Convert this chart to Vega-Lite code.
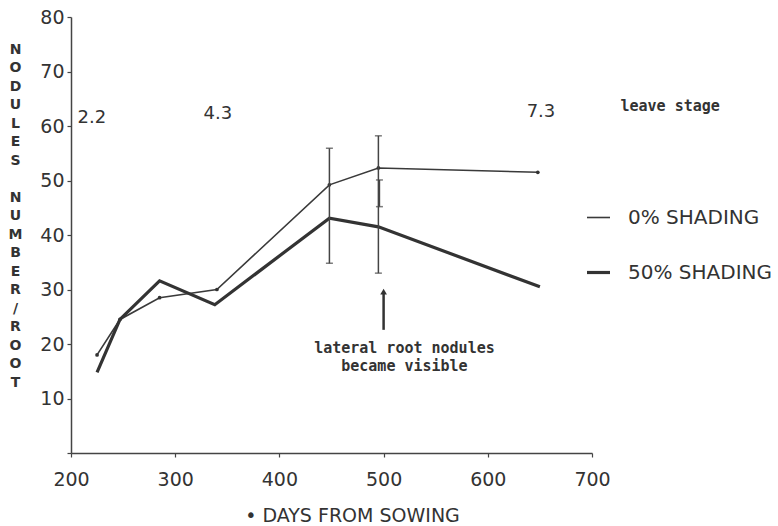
{
  "$schema": "https://vega.github.io/schema/vega-lite/v6.json",
  "width": 521,
  "height": 436,
  "autosize": {"type": "none"},
  "padding": {"left": 71, "top": 17, "right": 186, "bottom": 73},
  "background": "white",
  "config": {
    "view": {"stroke": null},
    "font": "DejaVu Sans",
    "axis": {
      "grid": false,
      "domainColor": "#444444",
      "domainWidth": 1.5,
      "tickColor": "#444444",
      "tickWidth": 1.2,
      "tickSize": 4,
      "labelColor": "#333333",
      "labelFont": "DejaVu Sans",
      "labelFontSize": 19,
      "titleColor": "#333333"
    }
  },
  "datasets": {
    "series": [
      {"treatment": "0% SHADING", "day": 225, "nodules": 18.0},
      {"treatment": "0% SHADING", "day": 247, "nodules": 24.5},
      {"treatment": "0% SHADING", "day": 285, "nodules": 28.5},
      {"treatment": "0% SHADING", "day": 340, "nodules": 30.0},
      {"treatment": "0% SHADING", "day": 448, "nodules": 49.2},
      {"treatment": "0% SHADING", "day": 495, "nodules": 52.3},
      {"treatment": "0% SHADING", "day": 648, "nodules": 51.5},
      {"treatment": "50% SHADING", "day": 225, "nodules": 14.8},
      {"treatment": "50% SHADING", "day": 247, "nodules": 24.5},
      {"treatment": "50% SHADING", "day": 285, "nodules": 31.6},
      {"treatment": "50% SHADING", "day": 338, "nodules": 27.2},
      {"treatment": "50% SHADING", "day": 448, "nodules": 43.1},
      {"treatment": "50% SHADING", "day": 495, "nodules": 41.5},
      {"treatment": "50% SHADING", "day": 650, "nodules": 30.5}
    ],
    "bars": [
      {"day": 448, "low": 34.8, "high": 55.9},
      {"day": 495, "low": 33.0, "high": 58.2},
      {"day": 496, "low": 45.2, "high": 50.1}
    ],
    "arrow": [
      {"day": 500, "from": 22.6, "to": 29.6}
    ],
    "labels": [
      {"group": "stage", "text": "2.2", "day": 220, "value": 61.5},
      {"group": "stage", "text": "4.3", "day": 341, "value": 62.2},
      {"group": "stage", "text": "7.3", "day": 651, "value": 62.6},
      {"group": "note", "text": "leave stage", "day": 775, "value": 63.7},
      {"group": "note", "text": "lateral root nodules", "day": 520, "value": 19.3},
      {"group": "note", "text": "became visible", "day": 520, "value": 16.0}
    ]
  },
  "layer": [
    {
      "data": {"name": "series"},
      "mark": {"type": "line", "clip": false},
      "encoding": {
        "x": {
          "field": "day", "type": "quantitative",
          "scale": {"domain": [200, 700], "nice": false},
          "axis": {
            "values": [200, 300, 400, 500, 600, 700],
            "labelFlush": false,
            "labelDx": 7,
            "labelPadding": 13,
            "title": "• DAYS FROM SOWING",
            "titleFontSize": 19,
            "titleFontWeight": "normal",
            "titleX": 281,
            "titleY": 53,
            "titleAlign": "center",
            "titleBaseline": "top"
          }
        },
        "y": {
          "field": "nodules", "type": "quantitative",
          "scale": {"domain": [0, 80], "nice": false},
          "axis": {
            "values": [0, 10, 20, 30, 40, 50, 60, 70, 80],
            "labelExpr": "datum.value == 0 ? '' : datum.label",
            "labelPadding": 3,
            "title": ["N","O","D","U","L","E","S","\u2800","N","U","M","B","E","R","/","R","O","O","T"],
            "titleAngle": 0,
            "titleFontSize": 14,
            "titleFontWeight": "bold",
            "titleLineHeight": 18.5,
            "titleX": -56,
            "titleY": 25,
            "titleAlign": "center",
            "titleBaseline": "top"
          }
        },
        "color": {
          "field": "treatment", "type": "nominal",
          "scale": {"domain": ["0% SHADING", "50% SHADING"], "range": ["#3a3a3a", "#333333"]},
          "legend": {
            "orient": "none",
            "legendX": 514,
            "legendY": 188,
            "title": null,
            "symbolType": "stroke",
            "symbolSize": 529,
            "rowPadding": 31,
            "labelOffset": 16,
            "labelFontSize": 20,
            "labelColor": "#333333",
            "labelFont": "DejaVu Sans"
          }
        },
        "strokeWidth": {
          "field": "treatment", "type": "nominal",
          "scale": {"domain": ["0% SHADING", "50% SHADING"], "range": [1.6, 3.2]},
          "legend": {
            "orient": "none",
            "legendX": 514,
            "legendY": 188,
            "title": null,
            "symbolType": "stroke",
            "symbolSize": 529,
            "rowPadding": 31,
            "labelOffset": 16,
            "labelFontSize": 20,
            "labelColor": "#333333",
            "labelFont": "DejaVu Sans"
          }
        }
      }
    },
    {
      "data": {"name": "series"},
      "transform": [{"filter": "datum.treatment == '0% SHADING'"}],
      "mark": {"type": "point", "filled": true, "size": 14, "color": "#333333", "opacity": 1},
      "encoding": {
        "x": {"field": "day", "type": "quantitative"},
        "y": {"field": "nodules", "type": "quantitative"}
      }
    },
    {
      "data": {"name": "bars"},
      "mark": {"type": "rule", "color": "#444444", "strokeWidth": 1.5},
      "encoding": {
        "x": {"field": "day", "type": "quantitative"},
        "y": {"field": "low", "type": "quantitative"},
        "y2": {"field": "high"}
      }
    },
    {
      "data": {"name": "bars"},
      "mark": {"type": "tick", "orient": "horizontal", "color": "#444444", "thickness": 1.5, "size": 7},
      "encoding": {
        "x": {"field": "day", "type": "quantitative"},
        "y": {"field": "low", "type": "quantitative"}
      }
    },
    {
      "data": {"name": "bars"},
      "mark": {"type": "tick", "orient": "horizontal", "color": "#444444", "thickness": 1.5, "size": 7},
      "encoding": {
        "x": {"field": "day", "type": "quantitative"},
        "y": {"field": "high", "type": "quantitative"}
      }
    },
    {
      "data": {"name": "arrow"},
      "mark": {"type": "rule", "color": "#333333", "strokeWidth": 2.5},
      "encoding": {
        "x": {"field": "day", "type": "quantitative"},
        "y": {"field": "from", "type": "quantitative"},
        "y2": {"field": "to"}
      }
    },
    {
      "data": {"name": "arrow"},
      "mark": {"type": "point", "shape": "triangle-up", "filled": true, "size": 45, "color": "#333333", "opacity": 1},
      "encoding": {
        "x": {"field": "day", "type": "quantitative"},
        "y": {"field": "to", "type": "quantitative"}
      }
    },
    {
      "data": {"name": "labels"},
      "transform": [{"filter": "datum.group == 'stage'"}],
      "mark": {"type": "text", "font": "DejaVu Sans", "fontSize": 18, "color": "#333333", "align": "center", "baseline": "middle", "clip": false},
      "encoding": {
        "x": {"field": "day", "type": "quantitative"},
        "y": {"field": "value", "type": "quantitative"},
        "text": {"field": "text"}
      }
    },
    {
      "data": {"name": "labels"},
      "transform": [{"filter": "datum.group == 'note'"}],
      "mark": {"type": "text", "font": "DejaVu Sans Mono", "fontWeight": "bold", "fontSize": 15, "color": "#333333", "align": "center", "baseline": "middle", "clip": false},
      "encoding": {
        "x": {"field": "day", "type": "quantitative"},
        "y": {"field": "value", "type": "quantitative"},
        "text": {"field": "text"}
      }
    }
  ]
}
